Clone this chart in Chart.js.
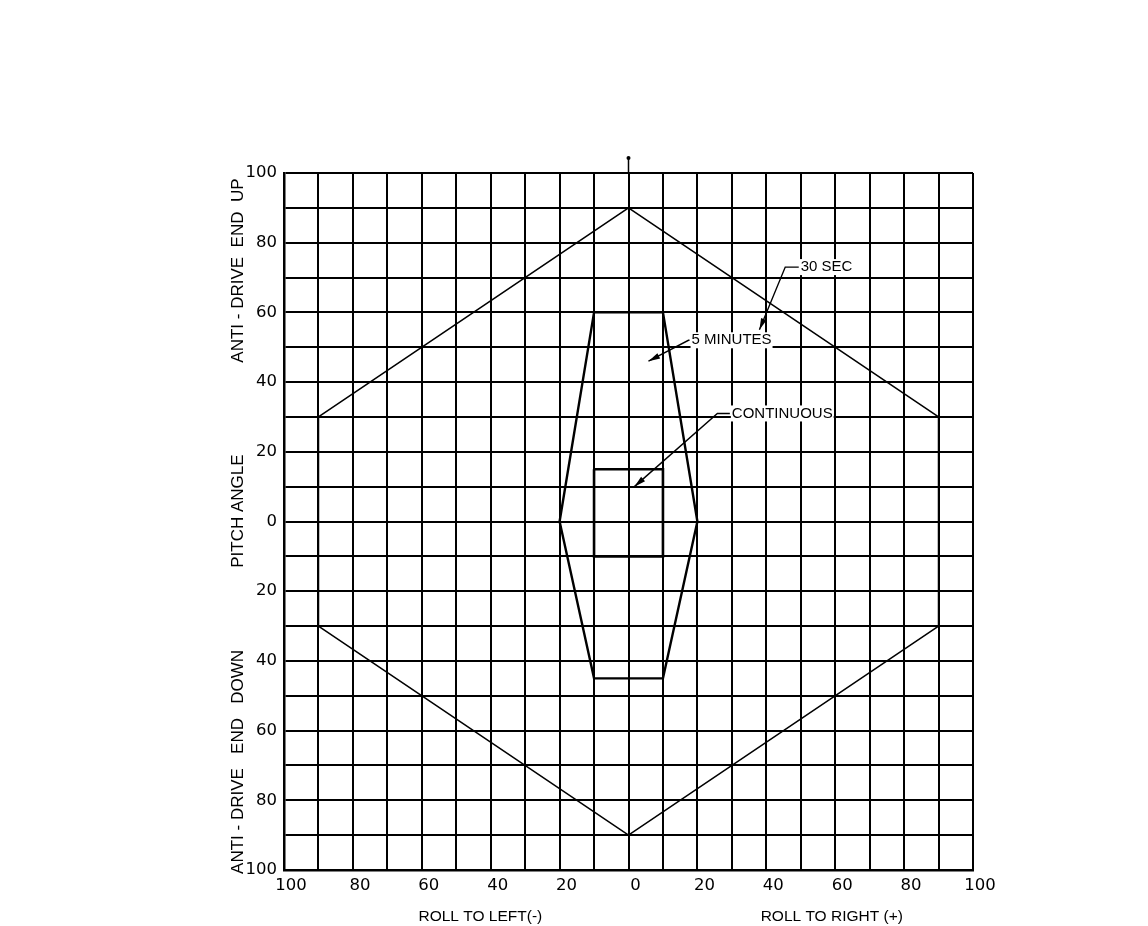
<!DOCTYPE html>
<html>
<head>
<meta charset="utf-8">
<script src="https://cdn.jsdelivr.net/npm/chart.js@4/dist/chart.umd.min.js"></script>
<style>
  html, body { margin: 0; padding: 0; background: #fff; }
  #wrap { width: 1148px; height: 926px; }
</style>
</head>
<body>
<div id="wrap"><canvas id="envelope"></canvas></div>
<script>
// operating envelope outlines (roll, pitch in degrees)
const sec30Roll   = [0, 90, 90, 0, -90, -90, 0];
const sec30Pitch  = [90, 30, -30, -90, -30, 30, 90];
const min5Roll    = [-10, 10, 20, 10, -10, -20, -10];
const min5Pitch   = [60, 60, 0, -45, -45, 0, 60];
const contRoll    = [-10, 10, 10, -10, -10];
const contPitch   = [15, 15, -10, -10, 15];

// callouts: label, text anchor, elbow, arrow tip (data units)
const calloutText = ['30 SEC', '5 MINUTES', 'CONTINUOUS'];
const calloutAt   = [[50, 73], [18.3, 52], [30, 31]];
const calloutElb  = [[45.5, 73], [17.4, 52], [25.8, 31]];
const calloutTip  = [[38, 55], [5.8, 46], [1.7, 10]];

const rollTitles  = ['ROLL TO LEFT(-)', 'ROLL TO RIGHT (+)'];
const rollTitleAt = [-43, 59];
const pitchTitles = ['ANTI - DRIVE  END  UP', 'PITCH ANGLE', 'ANTI - DRIVE   END   DOWN'];
const pitchTitleAt = [72, 3, -69];

function pts(xs, ys) {
    return xs.map((x, i) => ({ x: x, y: ys[i] }));
}

const labelsPlugin = {
    id: 'labels',
    afterDraw(chart) {
        const ctx = chart.ctx;
        const xs = chart.scales.x, ys = chart.scales.y;
        ctx.save();
        ctx.fillStyle = '#000';
        ctx.strokeStyle = '#000';

        // little mark above the zero roll line
        const x0 = xs.getPixelForValue(0);
        ctx.lineWidth = 1.5;
        ctx.beginPath();
        ctx.moveTo(x0, chart.chartArea.top);
        ctx.lineTo(x0, chart.chartArea.top - 16);
        ctx.stroke();
        ctx.beginPath();
        ctx.arc(x0, chart.chartArea.top - 15, 2, 0, Math.PI * 2);
        ctx.fill();

        // axis titles
        ctx.font = '15.5px "Liberation Sans", Arial, sans-serif';
        ctx.textAlign = 'center';
        ctx.textBaseline = 'middle';
        rollTitles.forEach((t, i) => {
            ctx.fillText(t, xs.getPixelForValue(rollTitleAt[i]), 917);
        });
        ctx.font = '17px "Liberation Sans", Arial, sans-serif';
        pitchTitles.forEach((t, i) => {
            ctx.save();
            ctx.translate(238, ys.getPixelForValue(pitchTitleAt[i]));
            ctx.rotate(-Math.PI / 2);
            ctx.fillText(t, 0, 0);
            ctx.restore();
        });

        // callouts with leader arrows
        ctx.font = '15px "Liberation Sans", Arial, sans-serif';
        ctx.textAlign = 'left';
        ctx.lineWidth = 1.4;
        calloutText.forEach((t, i) => {
            const tx = xs.getPixelForValue(calloutAt[i][0]);
            const ty = ys.getPixelForValue(calloutAt[i][1]);
            const ex = xs.getPixelForValue(calloutElb[i][0]);
            const ey = ys.getPixelForValue(calloutElb[i][1]);
            const px = xs.getPixelForValue(calloutTip[i][0]);
            const py = ys.getPixelForValue(calloutTip[i][1]);
            const w = ctx.measureText(t).width;
            ctx.fillStyle = '#fff';
            ctx.fillRect(tx - 1, ty - 8, w + 2, 16);
            ctx.fillStyle = '#000';
            ctx.fillText(t, tx, ty);
            ctx.beginPath();
            ctx.moveTo(tx - 2, ty);
            ctx.lineTo(ex, ey);
            ctx.lineTo(px, py);
            ctx.stroke();
            const a = Math.atan2(py - ey, px - ex);
            ctx.beginPath();
            ctx.moveTo(px, py);
            ctx.lineTo(px - 12 * Math.cos(a - 0.25), py - 12 * Math.sin(a - 0.25));
            ctx.lineTo(px - 12 * Math.cos(a + 0.25), py - 12 * Math.sin(a + 0.25));
            ctx.closePath();
            ctx.fill();
        });
        ctx.restore();
    }
};

const gridStyle = {
    color: '#000',
    lineWidth: 2,
    drawTicks: false
};

new Chart(document.getElementById('envelope'), {
    type: 'scatter',
    data: {
        datasets: [
            { label: '30 SEC', data: pts(sec30Roll, sec30Pitch), showLine: true,
              borderColor: '#000', borderWidth: 1.6, pointRadius: 0, tension: 0 },
            { label: '5 MINUTES', data: pts(min5Roll, min5Pitch), showLine: true,
              borderColor: '#000', borderWidth: 2.4, pointRadius: 0, tension: 0 },
            { label: 'CONTINUOUS', data: pts(contRoll, contPitch), showLine: true,
              borderColor: '#000', borderWidth: 2.6, pointRadius: 0, tension: 0 }
        ]
    },
    options: {
        responsive: true,
        maintainAspectRatio: false,
        animation: false,
        layout: { padding: { left: 0, top: 173, right: 175, bottom: 0 } },
        plugins: {
            legend: { display: false },
            tooltip: { enabled: false }
        },
        scales: {
            x: {
                type: 'linear',
                min: -100,
                max: 100,
                grid: gridStyle,
                border: { color: '#000', width: 2.5 },
                ticks: {
                    stepSize: 10,
                    autoSkip: false,
                    maxRotation: 0,
                    padding: 6,
                    labelOffset: 7,
                    color: '#000',
                    font: { family: '"DejaVu Sans", sans-serif', size: 16.5 },
                    callback: v => (v % 20 === 0 ? String(Math.abs(v)) : '')
                },
                afterFit: s => { s.height = 56; }
            },
            y: {
                type: 'linear',
                min: -100,
                max: 100,
                grid: gridStyle,
                border: { color: '#000', width: 2.5 },
                ticks: {
                    stepSize: 10,
                    autoSkip: false,
                    padding: 7,
                    color: '#000',
                    font: { family: '"DejaVu Sans", sans-serif', size: 16.5 },
                    callback: v => (v % 20 === 0 ? String(Math.abs(v)) : '')
                },
                afterFit: s => { s.width = 284; }
            }
        }
    },
    plugins: [labelsPlugin]
});
</script>
</body>
</html>
